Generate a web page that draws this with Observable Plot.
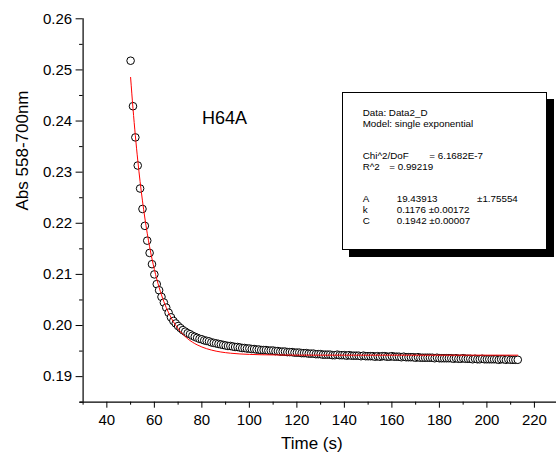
<!DOCTYPE html>
<html>
<head>
<meta charset="utf-8">
<script src="https://cdn.jsdelivr.net/npm/d3@7"></script>
<script src="https://cdn.jsdelivr.net/npm/@observablehq/plot@0.6"></script>
<style>
  html, body { margin: 0; padding: 0; background: #fff; }
  #wrap { position: relative; width: 556px; height: 462px; font-family: Arial, "Liberation Sans", sans-serif; }
  #legend { position: absolute; left: 342px; top: 92px; width: 205px; height: 158px; box-sizing: border-box;
            border: 1px solid #000; background: #fff; box-shadow: 7px 7px 0 #000; }
  #legend span { position: absolute; white-space: pre; font-size: 9.8px; line-height: 10px; height: 10px; color: #000; }
</style>
</head>
<body>
<div id="wrap"></div>
<script>
// ---- data ----
const time = [
  50,51,52,53,54,55,56,57,58,59,
  60,61,62,63,64,65,66,67,68,69,
  70,71,72,73,74,75,76,77,78,79,
  80,81,82,83,84,85,86,87,88,89,
  90,91,92,93,94,95,96,97,98,99,
  100,101,102,103,104,105,106,107,108,109,
  110,111,112,113,114,115,116,117,118,119,
  120,121,122,123,124,125,126,127,128,129,
  130,131,132,133,134,135,136,137,138,139,
  140,141,142,143,144,145,146,147,148,149,
  150,151,152,153,154,155,156,157,158,159,
  160,161,162,163,164,165,166,167,168,169,
  170,171,172,173,174,175,176,177,178,179,
  180,181,182,183,184,185,186,187,188,189,
  190,191,192,193,194,195,196,197,198,199,
  200,201,202,203,204,205,206,207,208,209,
  210,211,212,213
];
const absorbance = [
  0.2518,0.2429,0.2368,0.2313,0.2268,0.2228,0.2195,0.2166,0.2142,0.2120,
  0.2100,0.2081,0.2069,0.2056,0.2045,0.2035,0.2025,0.2016,0.2009,0.2004,
  0.1999,0.1995,0.1991,0.1988,0.1985,0.1983,0.1980,0.1978,0.1976,0.1974,
  0.1973,0.1971,0.1970,0.1969,0.1967,0.1966,0.1965,0.1964,0.1963,0.1962,
  0.1961,0.1960,0.1960,0.1959,0.1958,0.1958,0.1957,0.1956,0.1956,0.1955,
  0.1955,0.1954,0.1954,0.1953,0.1953,0.1952,0.1952,0.1952,0.1951,0.1951,
  0.1951,0.1950,0.1950,0.1949,0.1949,0.1949,0.1948,0.1948,0.1948,0.1947,
  0.1947,0.1947,0.1946,0.1946,0.1946,0.1945,0.1945,0.1945,0.1944,0.1944,
  0.1944,0.1943,0.1943,0.1943,0.1943,0.1942,0.1942,0.1943,0.1942,0.1942,
  0.1942,0.1941,0.1942,0.1941,0.1941,0.1941,0.1941,0.1940,0.1941,0.1940,
  0.1940,0.1940,0.1940,0.1939,0.1940,0.1939,0.1940,0.1940,0.1939,0.1939,
  0.1940,0.1939,0.1939,0.1939,0.1938,0.1939,0.1938,0.1938,0.1938,0.1938,
  0.1937,0.1938,0.1937,0.1937,0.1937,0.1937,0.1937,0.1937,0.1936,0.1937,
  0.1936,0.1936,0.1936,0.1936,0.1936,0.1936,0.1935,0.1936,0.1935,0.1935,
  0.1936,0.1935,0.1935,0.1935,0.1934,0.1935,0.1934,0.1934,0.1935,0.1934,
  0.1934,0.1934,0.1934,0.1934,0.1934,0.1933,0.1934,0.1934,0.1933,0.1934,
  0.1933,0.1933,0.1933,0.1933
];
// fitted single-exponential curve (red line), sampled
const fitTime = [50,51,52,53,54,55,56,57,58,59,60,61,62,63,64,65,66,67,68,69,70,
                 72,74,76,78,80,84,88,92,96,100,110,120,140,213];
const fitAbs  = [0.24853,0.24250,0.23714,0.23238,0.22814,0.22438,0.22103,0.21805,0.21541,0.21305,
                 0.21096,0.20910,0.20745,0.20598,0.20467,0.20351,0.20248,0.20156,0.20074,0.20002,0.19937,
                 0.19829,0.19743,0.19675,0.19622,0.19580,0.19520,0.19482,0.19459,0.19444,0.19435,
                 0.19425,0.19421,0.19420,0.19420];
const xMajorTicks = [40,60,80,100,120,140,160,180,200,220];
const xMinorTicks = [30,50,70,90,110,130,150,170,190,210];
const yMajorTicks = [0.19,0.20,0.21,0.22,0.23,0.24,0.25,0.26];
const yMinorTicks = [0.185,0.195,0.205,0.215,0.225,0.235,0.245,0.255];
const sampleLabel = "H64A";
const xTitle = "Time (s)";
const yTitle = "Abs 558-700nm";
const legendLines = [
  ["Data: Data2_D"], ["Model: single exponential"],
  ["Chi^2/DoF", "= 6.1682E-7"], ["R^2", "= 0.99219"],
  ["A", "19.43913", "\u00b11.75554"], ["k", "0.1176 \u00b10.00172"], ["C", "0.1942 \u00b10.00007"]
];

const points = time.map((t, i) => ({t, a: absorbance[i]}));
const fit = fitTime.map((t, i) => ({t, a: fitAbs[i]}));

const chart = Plot.plot({
  width: 556, height: 462,
  marginLeft: 82.6, marginRight: 0, marginTop: 18.3, marginBottom: 60.3,
  style: {fontFamily: 'Arial, "Liberation Sans", sans-serif', fontSize: "15px", color: "#000", background: "#fff"},
  x: {domain: [30, 229.3]},
  y: {domain: [0.185, 0.26]},
  marks: [
    Plot.dot(points, {x: "t", y: "a", r: 3.8, stroke: "#000", strokeWidth: 1, fill: "#fff"}),
    Plot.line(fit, {x: "t", y: "a", stroke: "#ff0000", strokeWidth: 1, curve: "monotone-x"}),
    Plot.ruleY([0.185], {stroke: "#000", strokeWidth: 1.2, insetLeft: -3}),
    Plot.ruleX([30], {stroke: "#000", strokeWidth: 1.2}),
    Plot.axisX(xMajorTicks, {tickSize: 6, tickPadding: 6, tickFormat: d => String(d), label: null, fontSize: 15}),
    Plot.axisX(xMinorTicks, {tickSize: 3, tickFormat: () => "", label: null}),
    Plot.axisY(yMajorTicks, {tickSize: 7, tickPadding: 4, tickFormat: d3.format(".2f"), label: null, fontSize: 15}),
    Plot.axisY(yMinorTicks, {tickSize: 3.5, tickFormat: () => "", label: null}),
    Plot.text([xTitle], {frameAnchor: "bottom", dy: 47, dx: -8, fontSize: 17}),
    Plot.text([yTitle], {frameAnchor: "left", dx: -60.6, rotate: -90, fontSize: 17}),
    Plot.text([sampleLabel], {frameAnchor: "top-left", dx: 119, dy: 92.4, textAnchor: "start", fontSize: 18})
  ]
});
const wrap = document.getElementById("wrap");
wrap.appendChild(chart);

// legend box (fit report)
const legend = document.createElement("div");
legend.id = "legend";
wrap.appendChild(legend);
const rowCenters = [112.5, 123.5, 156, 167, 199, 210, 221];
const colStarts = [
  [362.7], [362.7],
  [362.7, 429.3], [362.7, 389.3],
  [362.7, 396.7, 477], [362.7, 396.7], [362.7, 396.7]
];
legendLines.forEach((parts, i) => {
  parts.forEach((txt, j) => {
    const s = document.createElement("span");
    s.textContent = txt;
    s.style.left = (colStarts[i][j] - 343) + "px";
    s.style.top = (rowCenters[i] - 93 - 5) + "px";
    legend.appendChild(s);
  });
});
</script>
</body>
</html>
